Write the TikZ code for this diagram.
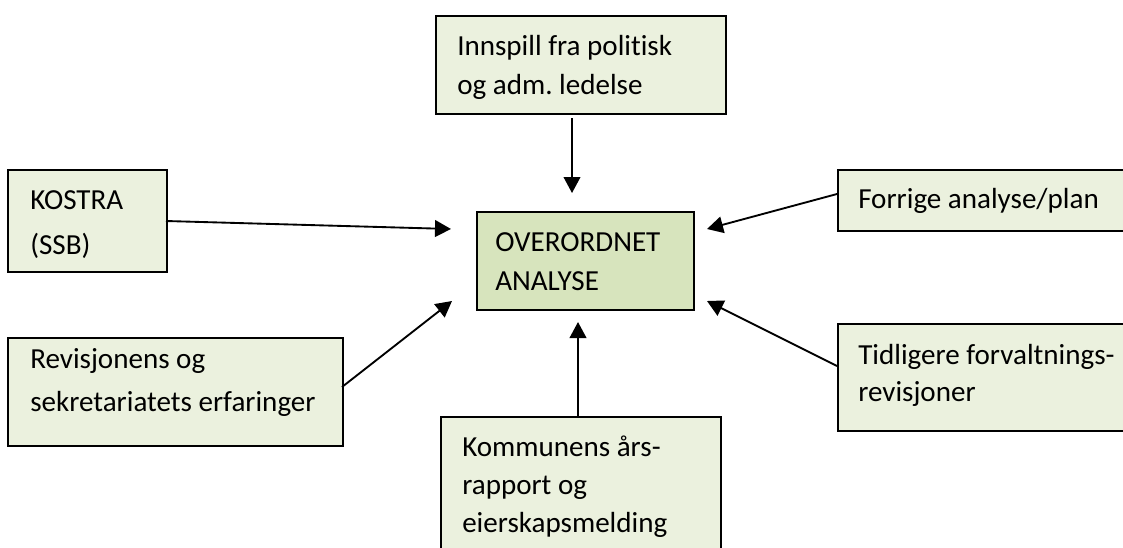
\documentclass[tikz,border=0pt]{standalone}
\usepackage{fontspec}
\setmainfont{Carlito}[Ligatures=NoCommon]
\frenchspacing
\usetikzlibrary{arrows.meta}
\definecolor{boxlight}{HTML}{EBF1DE}
\definecolor{boxmid}{HTML}{D7E4BD}
\newcommand{\fl}{\rule{0pt}{18pt}}
\tikzset{
  box/.style={draw=black, line width=1.5pt, fill=boxlight, rectangle, inner sep=0pt, anchor=north west},
  ctrbox/.style={box, fill=boxmid},
  txt/.style={inner sep=0pt, anchor=north west, align=left},
  arr/.style={draw=black, line width=1.4pt, -{Triangle[length=12pt,width=12.5pt]}}
}
\begin{document}
\begin{tikzpicture}[x=0.75pt,y=-0.75pt]
\useasboundingbox (0,0) rectangle (1123,547);
\clip (0,0) rectangle (1123,547);
% boxes
\node[box, minimum width=217.5pt, minimum height=73.5pt] (inp) at (435,15) {};
\node[ctrbox, minimum width=162.75pt, minimum height=73.5pt] (ctr) at (476,211) {};
\node[box, minimum width=119.25pt, minimum height=76.5pt] (kos) at (7,169) {};
\node[box, minimum width=251.25pt, minimum height=81pt] (rev) at (7,337) {};
\node[box, minimum width=227.25pt, minimum height=45.75pt] (for) at (837,169) {};
\node[box, minimum width=227.25pt, minimum height=80.25pt] (tid) at (837,323) {};
\node[box, minimum width=210pt, minimum height=108pt] (kom) at (440,416) {};
% texts
\node[txt, font=\fontsize{21.8}{29.25}\selectfont] (inpt) at (457,31) {\fl Innspill fra politisk\\og adm. ledelse};
\node[txt, font=\fontsize{21.8}{29.25}\selectfont] (ctrt) at (495,227) {\fl OVERORDNET\\ANALYSE};
\node[txt, font=\fontsize{21.8}{33.75}\selectfont] (kost) at (30,185) {\fl KOSTRA\\(SSB)};
\node[txt, font=\fontsize{21.8}{32.25}\selectfont] (revt) at (30,344) {\fl Revisjonens og\\sekretariatets erfaringer};
\node[txt, font=\fontsize{21.8}{29.25}\selectfont] (fort) at (858,184) {\fl Forrige analyse/plan};
\node[txt, font=\fontsize{21.8}{28}\selectfont] (tidt) at (858,340) {\fl Tidligere forvaltnings-\\revisjoner};
\node[txt, font=\fontsize{21.8}{28.5}\selectfont] (komt) at (462,432) {\fl Kommunens års-\\rapport og\\eierskapsmelding};
% arrow ends
\coordinate (e1s) at (572,118); \coordinate (e1) at (572,193);
\coordinate (e2s) at (166,221); \coordinate (e2) at (451,229);
\coordinate (e3s) at (342,387); \coordinate (e3) at (452,301);
\coordinate (e4s) at (578,416); \coordinate (e4) at (578,322);
\coordinate (e5s) at (837,194); \coordinate (e5) at (707,229);
\coordinate (e6s) at (837,366); \coordinate (e6) at (707,301);
\draw[arr] (e1s) -- (e1);
\draw[arr] (e2s) -- (e2);
\draw[arr] (e3s) -- (e3);
\draw[arr] (e4s) -- (e4);
\draw[arr] (e5s) -- (e5);
\draw[arr] (e6s) -- (e6);
\end{tikzpicture}
\end{document}
